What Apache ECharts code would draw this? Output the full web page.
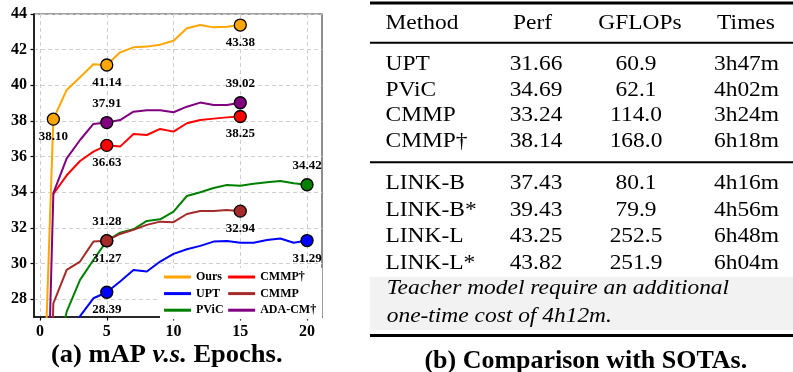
<!DOCTYPE html>
<html>
<head>
<meta charset="utf-8">
<script src="https://cdn.jsdelivr.net/npm/echarts@6.0.0/dist/echarts.min.js"></script>
<style>
html, body { margin: 0; padding: 0; background: #fff; }
#main { width: 793px; height: 372px; }
</style>
</head>
<body>
<div id="main"></div>
<script>
// mAP per epoch
const epochs = [0, 1, 2, 3, 4, 5, 6, 7, 8, 9, 10, 11, 12, 13, 14, 15, 16, 17, 18, 19, 20];
const ours = [16.0, 38.10, 39.74, 40.45, 41.18, 41.14, 41.85, 42.13, 42.17, 42.28, 42.50, 43.20, 43.38, 43.25, 43.29, 43.38]; // from epoch 0
const upt = [25.0, 27.05, 28.05, 28.39, 28.99, 29.64, 29.55, 30.11, 30.54, 30.80, 30.99, 31.23, 31.27, 31.17, 31.17, 31.32, 31.40, 31.17, 31.29]; // from epoch 2
const pvic = [24.0, 27.3, 29.08, 30.2, 31.27, 31.73, 31.92, 32.39, 32.48, 32.91, 33.79, 34.0, 34.24, 34.41, 34.37, 34.47, 34.56, 34.63, 34.5, 34.42]; // from epoch 1
const cmmpDagger = [33.90, 34.95, 35.75, 36.28, 36.63, 36.56, 37.27, 37.21, 37.55, 37.40, 37.87, 38.05, 38.13, 38.20, 38.25]; // from epoch 1
const cmmp = [5.0, 27.77, 29.64, 30.11, 31.23, 31.28, 31.66, 31.89, 32.17, 32.35, 32.32, 32.78, 32.95, 32.95, 33.00, 32.94]; // from epoch 0
const adaCm = [6.0, 33.95, 35.90, 36.93, 37.83, 37.91, 38.05, 38.52, 38.60, 38.60, 38.49, 38.80, 39.03, 38.90, 38.90, 39.02]; // from epoch 0

const xTicks = [0, 5, 10, 15, 20];
const yTicks = [28, 30, 32, 34, 36, 38, 40, 42, 44];

// table (b)
const tableHeader = ['Method', 'Perf', 'GFLOPs', 'Times'];
const tableMethods = ['UPT', 'PViC', 'CMMP', 'CMMP†', 'LINK-B', 'LINK-B*', 'LINK-L', 'LINK-L*'];
const tablePerf = [31.66, 34.69, 33.24, 38.14, 37.43, 39.43, 43.25, 43.82];
const tableGflops = [60.9, 62.1, 114.0, 168.0, 80.1, 79.9, 252.5, 251.9];
const tableTimes = ['3h47m', '4h02m', '3h24m', '6h18m', '4h16m', '4h56m', '6h48m', '6h04m'];
const tableNote = ['Teacher model require an additional', 'one-time cost of 4h12m.'];

const serif = 'Liberation Serif';

function buildData(start, values, marks) {
  return values.map(function (v, i) {
    const e = epochs[start + i];
    const pos = marks[e];
    if (!pos) return { value: [e, v], symbol: 'none' };
    return {
      value: [e, v],
      symbol: 'circle',
      symbolSize: 12,
      itemStyle: { borderColor: '#000', borderWidth: 1.3 },
      label: { show: true, position: pos, distance: pos === 'top' ? 6 : 4.5 }
    };
  });
}

function lineSeries(name, color, start, values, marks) {
  return {
    name: name,
    type: 'line',
    color: color,
    symbol: 'circle',
    showAllSymbol: true,
    lineStyle: { width: 2, color: color },
    label: {
      formatter: function (p) { return p.value[1].toFixed(2); },
      fontFamily: serif, fontWeight: 'bold', fontSize: 13, color: '#000'
    },
    emphasis: { disabled: true },
    data: buildData(start, values, marks)
  };
}

// table graphics
const graphics = [];
function txt(x, y, text, align, opts) {
  opts = opts || {};
  graphics.push({
    type: 'text', x: x, y: y, scaleX: opts.scaleX || 1.09,
    style: {
      text: text, align: align, textAlign: align, verticalAlign: 'middle', textVerticalAlign: 'middle',
      fontFamily: serif, fontSize: opts.size || 21.5, fontStyle: opts.italic ? 'italic' : 'normal',
      fontWeight: opts.bold ? 'bold' : 'normal', fill: '#000', rich: opts.rich
    }
  });
}
function rule(y, h) {
  graphics.push({ type: 'rect', shape: { x: 370, y: y, width: 423, height: h }, style: { fill: '#000' } });
}

graphics.push({ type: 'rect', shape: { x: 370, y: 276.7, width: 423, height: 53.3 }, style: { fill: '#f2f2f2' } });
rule(1.5, 3);
rule(41.7, 2);
rule(161.3, 2);
rule(334, 3);

const headY = 23.2;
txt(385.5, headY, tableHeader[0], 'left');
txt(532.5, headY, tableHeader[1], 'center');
txt(640, headY, tableHeader[2], 'center');
txt(746, headY, tableHeader[3], 'center');
tableMethods.forEach(function (m, i) {
  const y = i < 4 ? 64.5 + i * 25.5 : 183.5 + (i - 4) * 26.6;
  txt(385.5, y, m, 'left');
  txt(536, y, tablePerf[i].toFixed(2), 'center');
  txt(636, y, tableGflops[i].toFixed(1), 'center');
  txt(746.5, y, tableTimes[i], 'center');
});
txt(386.7, 288.2, tableNote[0], 'left', { italic: true });
txt(386.7, 316.5, tableNote[1], 'left', { italic: true });

const capRich = {
  b: { fontFamily: serif, fontSize: 25, fontWeight: 'bold', fill: '#000' },
  i: { fontFamily: serif, fontSize: 25, fontWeight: 'bold', fontStyle: 'italic', fill: '#000' }
};
txt(166.7, 356, '{b|(a) mAP }{i|v.s.}{b| Epochs.}', 'center', { scaleX: 1.06, size: 25, bold: true, rich: capRich });
txt(585.8, 362, '(b) Comparison with SOTAs.', 'center', { scaleX: 1.06, size: 24.5, bold: true });

const chart = echarts.init(document.getElementById('main'), null, { renderer: 'canvas' });
chart.setOption({
  animation: false,
  backgroundColor: '#fff',
  grid: { left: 34, top: 14, width: 288, height: 303, show: true, borderColor: '#444', borderWidth: 1.2 },
  xAxis: {
    type: 'value', min: -0.45, max: 21.12,
    axisLine: { show: true, onZero: false, lineStyle: { color: '#000', width: 1.5 } },
    axisTick: { show: true, customValues: xTicks, length: 3.5, lineStyle: { color: '#000', width: 1.2 } },
    axisLabel: { customValues: xTicks, fontFamily: serif, fontWeight: 'bold', fontSize: 16, color: '#000', margin: 7 },
    splitLine: { show: true, lineStyle: { type: [4, 3], color: '#cfcfcf', width: 1 } }
  },
  yAxis: {
    type: 'value', min: 27, max: 44,
    axisLine: { show: true, onZero: false, lineStyle: { color: '#000', width: 1.5 } },
    axisTick: { show: true, customValues: yTicks, length: 3.5, lineStyle: { color: '#000', width: 1.2 } },
    axisLabel: { customValues: yTicks, fontFamily: serif, fontWeight: 'bold', fontSize: 16, color: '#000', margin: 7 },
    splitLine: { show: true, lineStyle: { type: [4, 3], color: '#cfcfcf', width: 1 } }
  },
  legend: {
    orient: 'vertical', left: 160, top: 268, height: 56,
    padding: [3, 6, 3, 4], itemGap: 4.6, itemWidth: 27, itemHeight: 3, itemTextGap: 7,
    icon: 'rect', backgroundColor: '#fff', selectedMode: false,
    itemStyle: { borderWidth: 0 },
    textStyle: { fontFamily: serif, fontWeight: 'bold', fontSize: 12, color: '#000' }
  },
  series: [
    lineSeries('Ours', '#FFA500', 0, ours, { 1: 'bottom', 5: 'bottom', 15: 'bottom' }),
    lineSeries('UPT', '#0000FF', 2, upt, { 5: 'bottom', 20: 'bottom' }),
    lineSeries('PViC', '#008000', 1, pvic, { 5: 'bottom', 20: 'top' }),
    lineSeries('CMMP†', '#FF0000', 1, cmmpDagger, { 5: 'bottom', 15: 'bottom' }),
    lineSeries('CMMP', '#A52A2A', 0, cmmp, { 5: 'top', 15: 'bottom' }),
    lineSeries('ADA-CM†', '#800080', 0, adaCm, { 5: 'top', 15: 'top' })
  ],
  graphic: { elements: graphics }
});
</script>
</body>
</html>
